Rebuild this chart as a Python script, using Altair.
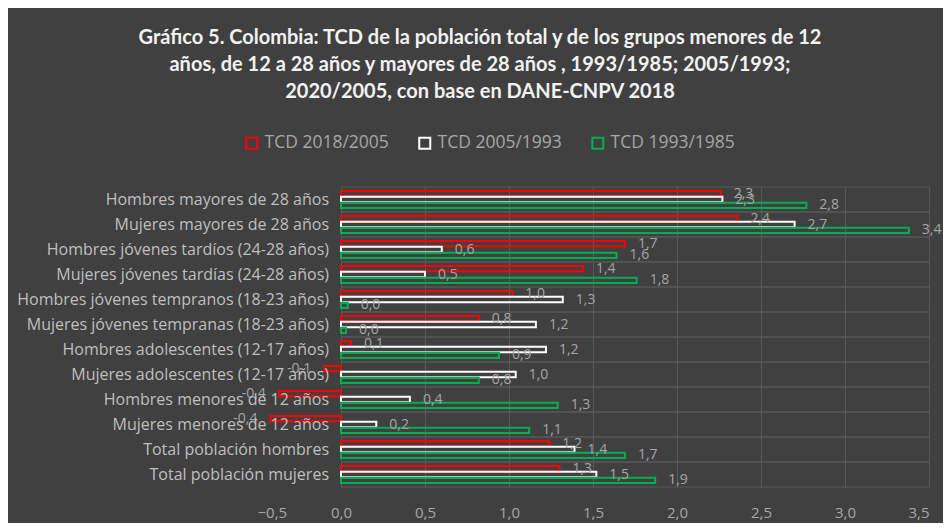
import altair as alt
import pandas as pd

categorias = [
    "Hombres mayores de 28 años",
    "Mujeres mayores de 28 años",
    "Hombres jóvenes tardíos (24-28 años)",
    "Mujeres jóvenes tardías (24-28 años)",
    "Hombres jóvenes tempranos (18-23 años)",
    "Mujeres jóvenes tempranas (18-23 años)",
    "Hombres adolescentes (12-17 años)",
    "Mujeres adolescentes (12-17 años)",
    "Hombres menores de 12 años",
    "Mujeres menores de 12 años",
    "Total población hombres",
    "Total población mujeres",
]
series = ["TCD 2018/2005", "TCD 2005/1993", "TCD 1993/1985"]
colores = ["#ff0000", "#ffffff", "#00b050"]

tcd_2018_2005 = [2.26, 2.36, 1.69, 1.44, 1.02, 0.82, 0.06, -0.10, -0.37, -0.42, 1.24, 1.30]
tcd_2005_1993 = [2.27, 2.70, 0.60, 0.50, 1.32, 1.16, 1.22, 1.04, 0.41, 0.21, 1.39, 1.52]
tcd_1993_1985 = [2.77, 3.38, 1.64, 1.76, 0.04, 0.03, 0.94, 0.82, 1.29, 1.12, 1.69, 1.87]

x_ticks = [-0.5, 0.0, 0.5, 1.0, 1.5, 2.0, 2.5, 3.0, 3.5]

titulo = [
    "Gráfico 5. Colombia: TCD  de la población total y de los grupos menores de 12",
    "años, de 12 a 28 años y mayores de 28 años , 1993/1985; 2005/1993;",
    "2020/2005, con base en DANE-CNPV 2018",
]

rows = []
for s, vals in zip(series, [tcd_2018_2005, tcd_2005_1993, tcd_1993_1985]):
    for c, v in zip(categorias, vals):
        rows.append({"cat": c, "serie": s, "val": v,
                     "label": f"{v:.1f}".replace(".", ",")})
df = pd.DataFrame(rows)
cat_df = pd.DataFrame({"cat": categorias})

BG = "#404040"
GRID = "#595959"
TXT = "#a6a6a6"

y_scale = alt.Scale(domain=categorias, paddingInner=0, paddingOuter=0)
x_scale = alt.Scale(domain=[x_ticks[0], x_ticks[-1]], nice=False, zero=False)
yoff = alt.YOffset("serie:N", sort=series,
                   scale=alt.Scale(domain=series, paddingInner=0.1, paddingOuter=0.68))

base = alt.Chart(df)

grid_top = alt.Chart(cat_df).mark_rule(color=GRID, strokeWidth=1).encode(
    y=alt.Y("cat:N", scale=y_scale, axis=None, bandPosition=0),
    x=alt.datum(0, scale=x_scale),
    x2=alt.datum(x_ticks[-1]),
)
grid_bot = alt.Chart(cat_df).mark_rule(color=GRID, strokeWidth=1).encode(
    y=alt.Y("cat:N", scale=y_scale, axis=None, bandPosition=1),
    x=alt.datum(0),
    x2=alt.datum(x_ticks[-1]),
)

bars = base.mark_bar(fill="transparent", strokeWidth=2).encode(
    y=alt.Y("cat:N", scale=y_scale, axis=None),
    yOffset=yoff,
    x=alt.X("val:Q", scale=x_scale, title=None,
            axis=alt.Axis(values=x_ticks, grid=True,
                          gridColor={"condition": {"test": "datum.value < -0.4", "value": "transparent"},
                                     "value": GRID},
                          ticks=False, domain=False, labelPadding=18,
                          labelColor=TXT, labelFontSize=15, labelFont="Open Sans",
                          labelExpr="replace(format(datum.value, '.1f'), '.', ',')")),
    stroke=alt.Stroke("serie:N", sort=series,
                      scale=alt.Scale(domain=series, range=colores),
                      legend=alt.Legend(orient="none", legendX=-14, legendY=-53,
                                        direction="horizontal", title=None,
                                        symbolType="square", symbolSize=121,
                                        symbolStrokeWidth=2, symbolFillColor="transparent",
                                        labelColor=TXT, labelFontSize=17.5, labelFont="Open Sans",
                                        columnPadding=26, labelOffset=4)),
)

lab_pos = base.transform_filter("datum.val >= 0").mark_text(
    align="left", baseline="middle", dx=13, fontSize=14, font="Open Sans", color=TXT
).encode(
    y=alt.Y("cat:N", scale=y_scale, axis=None),
    yOffset=yoff,
    x=alt.X("val:Q"),
    text="label:N",
)
lab_neg = base.transform_filter("datum.val < 0").mark_text(
    align="right", baseline="middle", dx=-13, fontSize=14, font="Open Sans", color=TXT
).encode(
    y=alt.Y("cat:N", scale=y_scale, axis=None),
    yOffset=yoff,
    x=alt.X("val:Q"),
    text="label:N",
)

cat_labels = alt.Chart(cat_df).mark_text(
    align="right", baseline="middle", dx=-12, fontSize=16, font="Open Sans", color="#bfbfbf"
).encode(
    y=alt.Y("cat:N", scale=y_scale, axis=None),
    x=alt.datum(0),
    text="cat:N",
)

chart = alt.layer(grid_top, grid_bot, bars, lab_pos, lab_neg, cat_labels).properties(
    width=672, height=300,
    autosize=alt.AutoSizeParams(type="none"),
    padding={"left": 249, "top": 179, "right": 14, "bottom": 36},
    background=BG,
    title=alt.Title(text=titulo, anchor="middle", dx=-113, fontSize=20, font="Lato",
                    fontWeight="bold", color="#f2f2f2", lineHeight=27, offset=32),
).configure_view(stroke=None)

chart.save("out.html", embed_options={"renderer": "svg", "actions": False})
